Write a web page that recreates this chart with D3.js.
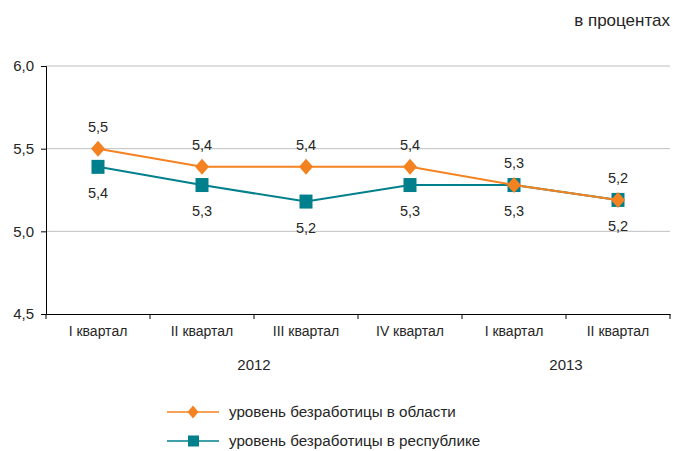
<!DOCTYPE html>
<html>
<head>
<meta charset="utf-8">
<script src="https://cdn.jsdelivr.net/npm/d3@7"></script>
<style>
  body { margin: 0; background: #fff; }
  svg text { font-family: "Liberation Sans", Arial, sans-serif; fill: #262626; }
</style>
</head>
<body>
<div id="chart"></div>
<script>
const quarters = ["I квартал", "II квартал", "III квартал", "IV квартал", "I квартал", "II квартал"];
const years = [{ label: "2012", from: 0, to: 3 }, { label: "2013", from: 4, to: 5 }];
const regionValues = [5.5, 5.39, 5.39, 5.39, 5.28, 5.19];
const republicValues = [5.39, 5.28, 5.18, 5.28, 5.28, 5.19];
const regionLabels = ["5,5", "5,4", "5,4", "5,4", "5,3", "5,2"];
const republicLabels = ["5,4", "5,3", "5,2", "5,3", "5,3", "5,2"];
const yTicks = [4.5, 5.0, 5.5, 6.0];

const orange = "#f58220";
const teal = "#00808c";

const width = 673, height = 451;
const margin = { top: 66, right: 3, bottom: 137, left: 46 };
const innerW = width - margin.left - margin.right;
const innerH = height - margin.top - margin.bottom;

const svg = d3.select("#chart").append("svg")
    .attr("width", width)
    .attr("height", height);

const g = svg.append("g").attr("transform", `translate(${margin.left},${margin.top})`);

const idx = d3.range(quarters.length);
const x = d3.scaleBand(idx, [0, innerW]);
const y = d3.scaleLinear([4.5, 6.0], [innerH, 0]);
const cx = i => x(i) + x.bandwidth() / 2;

// diamond path with given width / height
const diamondPath = (w, h) => `M0,${-h / 2}L${w / 2},0L0,${h / 2}L${-w / 2},0Z`;

// gridlines
g.selectAll(".grid")
    .data(yTicks.slice(1))
    .join("line")
    .attr("x1", 0).attr("x2", innerW)
    .attr("y1", d => y(d)).attr("y2", d => y(d))
    .attr("stroke", "#bfbfbf").attr("stroke-width", 1);

// y axis
const yAxis = g.append("g")
    .call(d3.axisLeft(y).tickValues(yTicks).tickSize(5).tickFormat(d => d3.format(".1f")(d).replace(".", ",")));
yAxis.select(".domain").attr("stroke", "#000");
yAxis.selectAll(".tick line").attr("stroke", "#000");
yAxis.selectAll("text").attr("font-size", 15).attr("x", -12).attr("fill", "#262626");

// x axis
const xAxis = g.append("g")
    .attr("transform", `translate(0,${innerH})`)
    .call(d3.axisBottom(x).tickSize(0).tickFormat(i => quarters[i]));
xAxis.select(".domain").attr("stroke", "#000");
xAxis.selectAll("text").attr("font-size", 14).attr("dy", "0").attr("y", 22).attr("fill", "#262626");
g.selectAll(".xtick")
    .data(d3.range(quarters.length + 1))
    .join("line")
    .attr("x1", i => i < quarters.length ? x(i) : innerW)
    .attr("x2", i => i < quarters.length ? x(i) : innerW)
    .attr("y1", innerH).attr("y2", innerH + 5)
    .attr("stroke", "#000");

// year labels
g.selectAll(".year")
    .data(years)
    .join("text")
    .attr("x", d => (x(d.from) + x(d.to) + x.bandwidth()) / 2)
    .attr("y", innerH + 56)
    .attr("text-anchor", "middle")
    .attr("font-size", 15)
    .text(d => d.label);

const line = d3.line().x((d, i) => cx(i)).y(d => y(d));

// republic series
g.append("path")
    .attr("d", line(republicValues))
    .attr("fill", "none").attr("stroke", teal).attr("stroke-width", 2);
g.selectAll(".sq")
    .data(republicValues)
    .join("rect")
    .attr("x", (d, i) => cx(i) - 6.5).attr("y", d => y(d) - 7)
    .attr("width", 13).attr("height", 14)
    .attr("fill", teal);

// region series
g.append("path")
    .attr("d", line(regionValues))
    .attr("fill", "none").attr("stroke", orange).attr("stroke-width", 2);
g.selectAll(".dm")
    .data(regionValues)
    .join("path")
    .attr("transform", (d, i) => `translate(${cx(i)},${y(d)})`)
    .attr("d", diamondPath(14, 16))
    .attr("fill", orange);

// data labels
g.selectAll(".lblR")
    .data(regionValues)
    .join("text")
    .attr("x", (d, i) => cx(i)).attr("y", d => y(d) - 17)
    .attr("text-anchor", "middle").attr("font-size", 14.5)
    .text((d, i) => regionLabels[i]);
g.selectAll(".lblP")
    .data(republicValues)
    .join("text")
    .attr("x", (d, i) => cx(i)).attr("y", d => y(d) + 31)
    .attr("text-anchor", "middle").attr("font-size", 14.5)
    .text((d, i) => republicLabels[i]);

// unit
svg.append("text")
    .attr("x", 670).attr("y", 26)
    .attr("text-anchor", "end").attr("font-size", 17)
    .text("в процентах");

// legend
const legend = [
    { label: "уровень безработицы в области", color: orange, shape: "diamond" },
    { label: "уровень безработицы в республике", color: teal, shape: "square" }
];
const lg = svg.selectAll(".legend")
    .data(legend)
    .join("g")
    .attr("transform", (d, i) => `translate(167,${412 + i * 29})`);
lg.append("line")
    .attr("x1", 0).attr("x2", 52).attr("y1", 0).attr("y2", 0)
    .attr("stroke", d => d.color).attr("stroke-width", 1.5);
lg.filter(d => d.shape === "diamond").append("path")
    .attr("transform", "translate(26,0)")
    .attr("d", diamondPath(11, 13))
    .attr("fill", d => d.color);
lg.filter(d => d.shape === "square").append("rect")
    .attr("x", 21).attr("y", -5.5).attr("width", 11).attr("height", 11)
    .attr("fill", d => d.color);
lg.append("text")
    .attr("x", 62).attr("y", 5)
    .attr("font-size", 15.2)
    .text(d => d.label);
</script>
</body>
</html>
